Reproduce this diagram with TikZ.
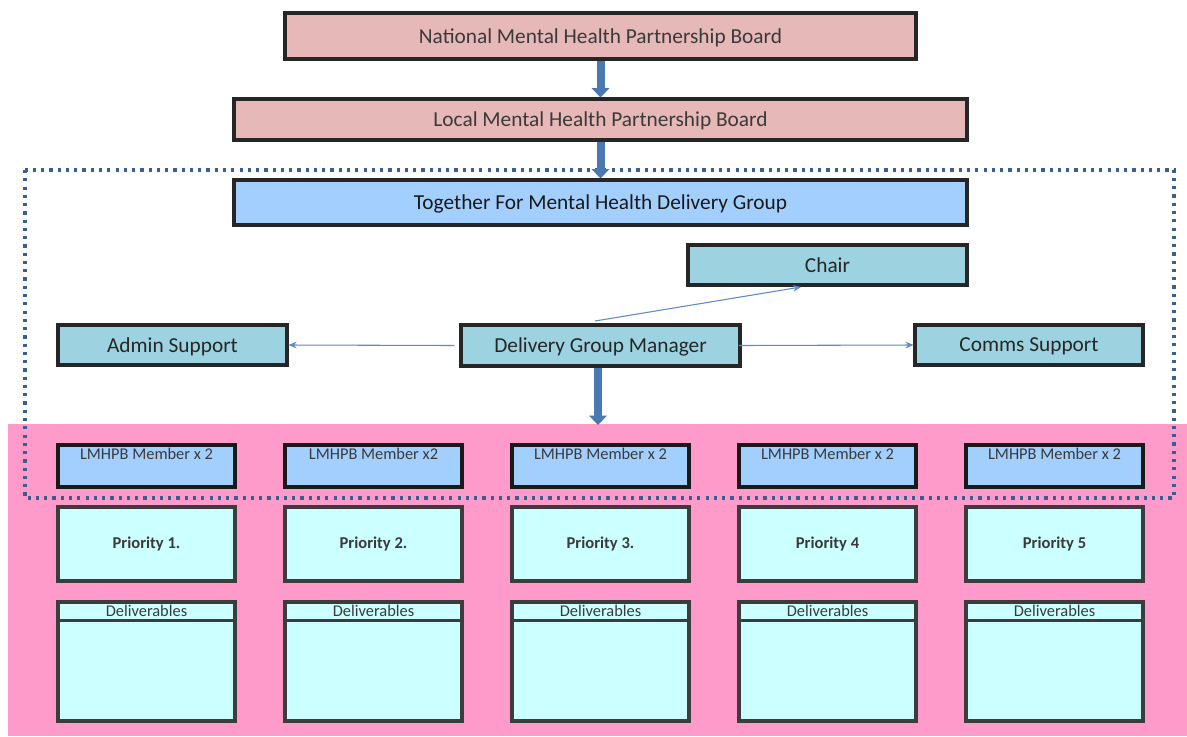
\documentclass[tikz,border=0pt]{standalone}
\usepackage{fontspec}
\setmainfont{Carlito}
\usetikzlibrary{arrows.meta,positioning,calc}

\definecolor{boardpink}{HTML}{E6B8B7}
\definecolor{groupblue}{HTML}{A3CFFF}
\definecolor{staffteal}{HTML}{9DD3E0}
\definecolor{prioritycyan}{HTML}{CCFFFF}
\definecolor{areapink}{HTML}{FF9BCB}
\definecolor{dotblue}{HTML}{3A5F8F}
\definecolor{flowblue}{HTML}{4A78B0}
\definecolor{linkblue}{HTML}{5B8BC9}
\definecolor{boxedge}{HTML}{262626}
\definecolor{textgrey}{HTML}{3A3A3A}

\tikzset{
  sz/.style 2 args={minimum width=#1*0.75pt, minimum height=#2*0.75pt, inner sep=0pt},
  orgbox/.style={draw=boxedge, line width=2.3pt, font=\fontsize{16}{18}\selectfont, text depth=0pt},
  board/.style={orgbox, fill=boardpink, text=textgrey},
  group/.style={orgbox, fill=groupblue, text=black!90},
  staff/.style={orgbox, fill=staffteal, text=black!85},
  member/.style={draw=black!90, line width=2.3pt, fill=groupblue, sz={177}{42}},
  prio/.style={draw=boxedge!90, line width=2.3pt, fill=prioritycyan, sz={177}{74}, text=textgrey, font=\fontsize{12.4}{14}\selectfont\bfseries},
  deliv/.style={draw=boxedge!90, line width=2.3pt, fill=prioritycyan, sz={177}{119}},
  small/.style={font=\fontsize{12.3}{14}\selectfont, text=textgrey, inner sep=3.6pt},
  bigflow/.style={draw=flowblue, line width=6pt, -{Triangle[width=13pt, length=7pt]}},
  link/.style={draw=linkblue, line width=0.8pt, -{Stealth[length=6pt, width=5pt]}},
}

\begin{document}
\begin{tikzpicture}[x=0.75pt,y=0.75pt,yscale=-1,xscale=1]
	\useasboundingbox (0,0) rectangle (1187,736);
	
	%Shape: Rectangle (pink priority area)
	\fill[areapink] (8,424) rectangle (1187,736);
	
	%Shape: Rectangle (dotted group outline)
	\draw[dotblue, line width=2.5pt, dash pattern={on 2.4pt off 3.8pt}] (25,170) rectangle (1174,498);
	
	% Boards and group
	\node[board, sz={631}{46}] (nat) at (600.5,36) {National Mental Health Partnership Board};
	\node[board, sz={733}{41}] (loc) at (600.5,119.5) {Local Mental Health Partnership Board};
	\node[group, sz={733}{45}] (tfmh) at (600.5,202.5) {Together For Mental Health Delivery Group};
	
	% Delivery group staff
	\node[staff, sz={279}{40}] (chair) at (827.5,265) {Chair};
	\node[staff, sz={279}{41}] (dgm) at (600.5,345.5) {Delivery Group Manager};
	\node[staff, sz={229}{40}] (admin) at (172.5,345) {Admin Support};
	\node[staff, sz={228}{40}] (comms) at (1029,345) {Comms Support};
	
	%Straight Lines (block arrows)
	\draw[bigflow] (nat.south) -- (loc.north);
	\draw[bigflow] (loc.south) -- (tfmh.north);
	\coordinate (areatop) at (598,425);
	\draw[bigflow] (dgm.south -| areatop) -- (areatop);
	
	%Straight Lines (thin links)
	\coordinate (chairfoot) at (801,287);
	\coordinate (dgmtop) at (595,321);
	\draw[link] (dgmtop) -- (chairfoot);
	\draw[link] ($(dgm.west)+(-5,0)$) -- (admin.east);
	\draw[link] ($(dgm.east)+(-3,0)$) -- (comms.west);
	
	% Priority columns
	\foreach \i/\cx/\who/\what in {1/146.5/LMHPB Member x 2/Priority 1.,
	                                2/373.5/LMHPB Member x2/Priority 2.,
	                                3/600.5/LMHPB Member x 2/Priority 3.,
	                                4/827.5/LMHPB Member x 2/Priority 4,
	                                5/1054.5/LMHPB Member x 2/Priority 5}{
		\node[member, label={[small, anchor=north]north:\who}] (mem\i) at (\cx,466) {};
		\node[prio] (pri\i) at (\cx,544) {\what};
		\node[deliv, label={[small, anchor=north, inner sep=3pt]north:Deliverables}] (del\i) at (\cx,661.5) {};
		\draw[draw=boxedge!90, line width=2.3pt] ($(del\i.north west)+(0,20)$) -- ($(del\i.north east)+(0,20)$);
	}
	
\end{tikzpicture}
\end{document}
